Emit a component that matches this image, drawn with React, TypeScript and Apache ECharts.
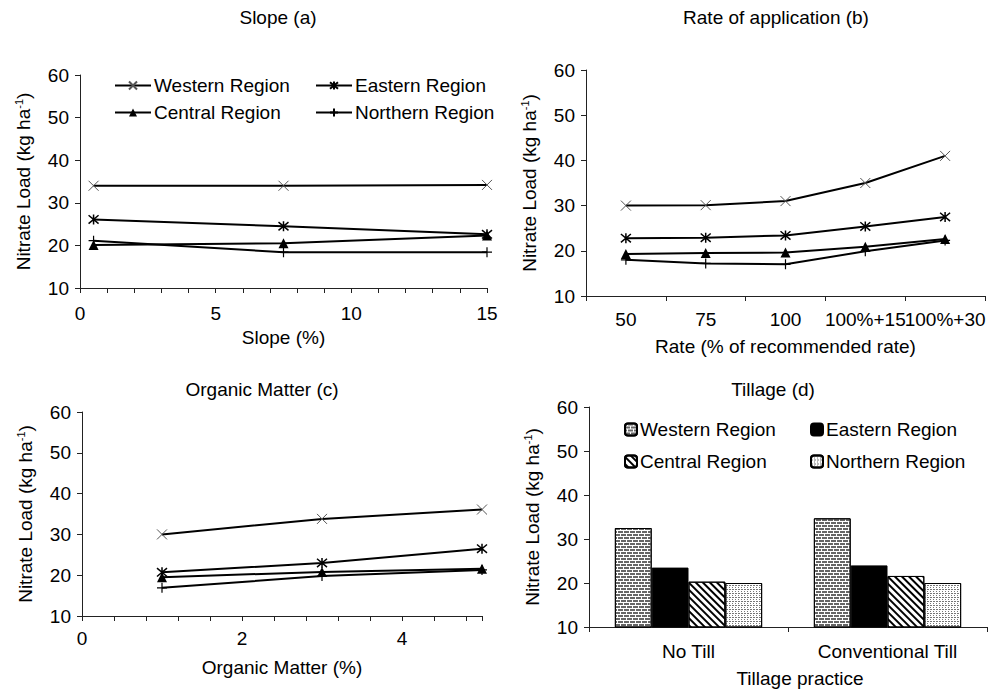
import React, { useEffect, useRef } from 'react';
import * as echarts from 'echarts';

// ---------- data ----------
const REGIONS = ['Western Region', 'Eastern Region', 'Central Region', 'Northern Region'];

const slopeX = [0.5, 7.5, 15];
const slopeWestern = [34, 34, 34.2];
const slopeEastern = [26.1, 24.5, 22.6];
const slopeCentral = [20.1, 20.5, 22.3];
const slopeNorthern = [21.1, 18.4, 18.4];

const rateCategories = ['50', '75', '100', '100%+15', '100%+30'];
const rateWestern = [30, 30.1, 31, 35, 41];
const rateEastern = [22.8, 22.9, 23.4, 25.4, 27.5];
const rateCentral = [19.3, 19.5, 19.6, 20.9, 22.6];
const rateNorthern = [18, 17.2, 17, 19.9, 22.3];

const omX = [1, 3, 5];
const omWestern = [30, 33.8, 36.1];
const omEastern = [20.7, 23, 26.5];
const omCentral = [19.5, 20.8, 21.6];
const omNorthern = [16.9, 19.8, 21.3];

const tillageCategories = ['No Till', 'Conventional Till'];
const tillWestern = [32.5, 34.7];
const tillEastern = [23.5, 24];
const tillCentral = [20.3, 21.6];
const tillNorthern = [20, 20];

// ---------- styles ----------
const FONT = '"Liberation Sans", Arial, sans-serif';
const TXT = '#000';
const FS = 19;

const MARKERS: Record<string, any> = {
  'Western Region': { symbol: 'path://M0,0L10,10M10,0L0,10', symbolSize: 10, itemStyle: { color: '#000', borderColor: '#555', borderWidth: 1 } },
  'Eastern Region': { symbol: 'path://M0,0L10,10M10,0L0,10M5,-1L5,11', symbolSize: 10, itemStyle: { color: '#000', borderColor: '#000', borderWidth: 1.5 } },
  'Central Region': { symbol: 'triangle', symbolSize: 10, itemStyle: { color: '#000', borderColor: '#000', borderWidth: 0 } },
  'Northern Region': { symbol: 'path://M5,0L5,10M0,5L10,5', symbolSize: 10, itemStyle: { color: '#000', borderColor: '#000', borderWidth: 1.2 } },
};

function lineSeries(name: string, data: any[]) {
  const m = MARKERS[name];
  return {
    type: 'line',
    name,
    data,
    symbol: m.symbol,
    symbolSize: m.symbolSize,
    showSymbol: true,
    itemStyle: m.itemStyle,
    lineStyle: { color: '#000', width: 2 },
    z: 3,
  };
}

function pairs(xs: number[], ys: number[]) {
  return xs.map((x, i) => [x, ys[i]]);
}

function yAxisCfg(nameGap: number) {
  return {
    type: 'value',
    min: 10,
    max: 60,
    interval: 10,
    name: 'Nitrate Load (kg ha{s|-1})',
    nameLocation: 'middle',
    nameRotate: 90,
    nameGap,
    nameTextStyle: {
      fontSize: FS,
      color: TXT,
      fontFamily: FONT,
      lineHeight: 21,
      rich: { s: { fontSize: 11, lineHeight: 11, verticalAlign: 'top', color: TXT, fontFamily: FONT } },
    },
    axisLine: { show: true, lineStyle: { color: '#222', width: 1 } },
    axisTick: { show: true, length: 5, lineStyle: { color: '#222' } },
    axisLabel: { fontSize: FS, color: TXT, fontFamily: FONT, margin: 11 },
    splitLine: { show: false },
  };
}

function titleGraphic(text: string, x: number, y: number) {
  return {
    type: 'text',
    x,
    y,
    style: {
      text,
      fontSize: FS,
      fontFamily: FONT,
      fill: TXT,
      align: 'center',
      verticalAlign: 'middle',
      textAlign: 'center',
      textVerticalAlign: 'middle',
    },
  };
}

function legendAt(name: string, left: number, top: number, iw: number, ih: number) {
  return {
    data: [name],
    left,
    top,
    orient: 'horizontal',
    padding: 0,
    itemWidth: iw,
    itemHeight: ih,
    selectedMode: false,
    textStyle: { fontSize: FS, color: TXT, fontFamily: FONT, padding: [0, 0, 0, -2] },
  };
}

const xAxisBase = {
  axisLine: { show: true, onZero: false, lineStyle: { color: '#222', width: 1 } },
  axisTick: { show: true, length: 5, lineStyle: { color: '#222' } },
  splitLine: { show: false },
  nameLocation: 'middle',
};

const TOP_H = 365;
const BOT_H = 346;
const A_W = 510;

const optionA: any = {
  animation: false,
  backgroundColor: 'transparent',
  graphic: [titleGraphic('Slope (a)', 278, 17)],
  grid: { left: 80, right: A_W - 487, top: 75, bottom: TOP_H - 288, outerBoundsMode: 'none', containLabel: false },
  legend: [
    legendAt('Western Region', 114, 76, 36, 10),
    legendAt('Central Region', 114, 103, 36, 10),
    legendAt('Eastern Region', 315, 76, 36, 10),
    legendAt('Northern Region', 315, 103, 36, 10),
  ],
  xAxis: {
    ...xAxisBase,
    type: 'value',
    min: 0,
    max: 15,
    interval: 1,
    name: 'Slope (%)',
    nameGap: 40,
    nameTextStyle: { fontSize: FS, color: TXT, fontFamily: FONT },
    axisLabel: {
      fontSize: FS, color: TXT, fontFamily: FONT, margin: 16,
      formatter: (v: number) => (Math.abs(v % 5) < 1e-6 ? String(v) : ''),
    },
  },
  yAxis: yAxisCfg(46),
  series: [
    lineSeries('Western Region', pairs(slopeX, slopeWestern)),
    lineSeries('Eastern Region', pairs(slopeX, slopeEastern)),
    lineSeries('Central Region', pairs(slopeX, slopeCentral)),
    lineSeries('Northern Region', pairs(slopeX, slopeNorthern)),
  ],
};

const optionB: any = {
  animation: false,
  backgroundColor: 'transparent',
  graphic: [titleGraphic('Rate of application (b)', 281, 17)],
  grid: { left: 91, right: 5, top: 70, bottom: TOP_H - 296, outerBoundsMode: 'none', containLabel: false },
  xAxis: {
    ...xAxisBase,
    type: 'category',
    data: rateCategories,
    boundaryGap: true,
    name: 'Rate (% of recommended rate)',
    nameGap: 41,
    nameTextStyle: { fontSize: FS, color: TXT, fontFamily: FONT },
    axisLabel: { fontSize: FS, color: TXT, fontFamily: FONT, margin: 14, interval: 0 },
  },
  yAxis: yAxisCfg(46),
  series: [
    lineSeries('Western Region', rateWestern),
    lineSeries('Eastern Region', rateEastern),
    lineSeries('Central Region', rateCentral),
    lineSeries('Northern Region', rateNorthern),
  ],
};

const optionC: any = {
  animation: false,
  backgroundColor: 'transparent',
  graphic: [titleGraphic('Organic Matter (c)', 262, 44)],
  grid: { left: 82, right: 13, top: 67, bottom: 75, outerBoundsMode: 'none', containLabel: false },
  xAxis: {
    ...xAxisBase,
    type: 'value',
    min: 0,
    max: 5,
    interval: 0.4,
    name: 'Organic Matter (%)',
    nameGap: 42,
    nameTextStyle: { fontSize: FS, color: TXT, fontFamily: FONT },
    axisLabel: {
      fontSize: FS, color: TXT, fontFamily: FONT, margin: 13,
      formatter: (v: number) => (Math.abs(v / 2 - Math.round(v / 2)) < 1e-6 ? String(Math.round(v)) : ''),
    },
  },
  yAxis: yAxisCfg(46),
  series: [
    lineSeries('Western Region', pairs(omX, omWestern)),
    lineSeries('Eastern Region', pairs(omX, omEastern)),
    lineSeries('Central Region', pairs(omX, omCentral)),
    lineSeries('Northern Region', pairs(omX, omNorthern)),
  ],
};

const BAR_STYLES: Record<string, any> = {
  'Western Region': {
    color: '#fff',
    borderColor: '#000',
    borderWidth: 1,
    decal: { symbol: 'rect', symbolSize: 1, color: '#666', dashArrayX: [[5, 1], [2, 1, 3, 0]], dashArrayY: [2, 1] },
  },
  'Eastern Region': { color: '#000', borderColor: '#000', borderWidth: 1 },
  'Central Region': {
    color: '#fff',
    borderColor: '#000',
    borderWidth: 1,
    decal: { symbol: 'rect', symbolSize: 1, color: '#000', dashArrayX: [1, 0], dashArrayY: [2, 3], rotation: Math.PI / 4 },
  },
  'Northern Region': {
    color: '#fff',
    borderColor: '#000',
    borderWidth: 1,
    decal: { symbol: 'rect', symbolSize: 1, color: '#777', dashArrayX: [[1, 2], [2, 1]], dashArrayY: [1, 1] },
  },
};

function barSeries(name: string, data: number[]) {
  return {
    type: 'bar',
    name,
    data,
    barGap: '0%',
    barCategoryGap: '26%',
    itemStyle: BAR_STYLES[name],
  };
}

const optionD: any = {
  animation: false,
  backgroundColor: 'transparent',
  graphic: [titleGraphic('Tillage (d)', 278, 44)],
  grid: { left: 94, right: 3, top: 62, bottom: 64, outerBoundsMode: 'none', containLabel: false },
  legend: [
    legendAt('Western Region', 129, 75, 12, 12),
    legendAt('Central Region', 129, 107, 12, 12),
    legendAt('Eastern Region', 315, 75, 12, 12),
    legendAt('Northern Region', 315, 107, 12, 12),
  ],
  xAxis: {
    ...xAxisBase,
    type: 'category',
    data: tillageCategories,
    boundaryGap: true,
    name: 'Tillage practice',
    nameGap: 42,
    nameTextStyle: { fontSize: FS, color: TXT, fontFamily: FONT, padding: [0, 0, 0, 24] },
    axisLabel: { fontSize: FS, color: TXT, fontFamily: FONT, margin: 15, interval: 0 },
  },
  yAxis: yAxisCfg(46),
  series: [
    barSeries('Western Region', tillWestern),
    barSeries('Eastern Region', tillEastern),
    barSeries('Central Region', tillCentral),
    barSeries('Northern Region', tillNorthern),
  ],
};

function Panel({ option, left, top, width, height }: { option: any; left: number; top: number; width: number; height: number }) {
  const ref = useRef<HTMLDivElement>(null);
  useEffect(() => {
    const chart = echarts.init(ref.current as HTMLDivElement, null, { renderer: 'svg' });
    chart.setOption(option);
    return () => chart.dispose();
  }, [option]);
  return <div ref={ref} style={{ position: 'absolute', left, top, width, height }} />;
}

export default function App() {
  return (
    <div style={{ position: 'absolute', left: 0, top: 0, width: 990, height: 691, background: '#fff', overflow: 'hidden' }}>
      <Panel option={optionC} left={0} top={345} width={495} height={BOT_H} />
      <Panel option={optionD} left={495} top={345} width={495} height={BOT_H} />
      <Panel option={optionB} left={495} top={0} width={495} height={TOP_H} />
      <Panel option={optionA} left={0} top={0} width={A_W} height={TOP_H} />
    </div>
  );
}
